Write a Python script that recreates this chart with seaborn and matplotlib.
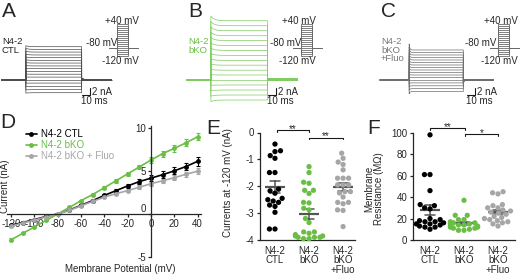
import matplotlib.pyplot as plt
import numpy as np
import pandas as pd
import seaborn as sns

# ---- data ----
step_mv = [-120, -110, -100, -90, -80, -70, -60, -50, -40, -30, -20, -10, 0, 10, 20, 30, 40]

# representative sweeps (steady current per step, nA)
ctl_sweep_na = [-3.3, -2.5, -1.65, -0.8, 0.0, 0.75, 1.5, 2.2, 2.95, 3.65, 4.4, 5.1, 5.8, 6.5, 7.25, 7.95, 8.65]
bko_sweep_na = [-5.2, -3.9, -2.6, -1.3, 0.0, 1.3, 2.55, 3.85, 5.1, 6.4, 7.7, 8.95, 10.25, 11.5, 12.8, 14.1, 15.4]
fluo_sweep_na = [-3.0, -2.25, -1.5, -0.75, 0.0, 0.65, 1.3, 1.95, 2.6, 3.25, 3.9, 4.55, 5.2, 5.85, 6.5, 7.15, 7.8]

# mean I-V (D)
iv_groups = ['N4-2 CTL', 'N4-2 bKO', 'N4-2 bKO + Fluo']
iv_ctl = [-1.3, -1.0, -0.65, -0.3, 0.0, 0.45, 1.0, 1.55, 2.15, 2.7, 3.25, 3.75, 4.15, 4.55, 5.0, 5.5, 6.1]
iv_bko = [-3.0, -2.25, -1.5, -0.75, 0.0, 0.75, 1.55, 2.25, 3.05, 3.85, 4.65, 5.45, 6.25, 7.0, 7.6, 8.25, 8.95]
iv_fluo = [-1.4, -1.05, -0.7, -0.35, 0.0, 0.4, 0.95, 1.45, 1.95, 2.35, 2.7, 3.1, 3.5, 3.85, 4.2, 4.6, 4.95]
iv_ctl_sem = [0.15, 0.12, 0.1, 0.08, 0.05, 0.1, 0.12, 0.15, 0.18, 0.22, 0.26, 0.3, 0.35, 0.38, 0.42, 0.45, 0.5]
iv_bko_sem = [0.15, 0.12, 0.1, 0.08, 0.05, 0.1, 0.12, 0.15, 0.18, 0.22, 0.25, 0.28, 0.32, 0.35, 0.38, 0.4, 0.42]
iv_fluo_sem = [0.12, 0.1, 0.08, 0.06, 0.04, 0.08, 0.1, 0.12, 0.14, 0.16, 0.18, 0.2, 0.22, 0.25, 0.27, 0.3, 0.32]

cat_labels = ['N4-2\nCTL', 'N4-2\nbKO', 'N4-2\nbKO\n+Fluo']

# currents at -120 mV (E)
e_ctl = [-0.43, -0.71, -0.68, -0.96, -0.86, -1.49, -1.49, -2.11, -2.17, -2.26, -2.45, -2.55,
         -2.5, -2.6, -2.7, -2.75, -2.97, -3.59, -3.59]
e_bko = [-1.27, -1.49, -1.85, -1.89, -2.15, -2.15, -2.27, -2.6, -2.62, -2.82, -2.88, -3.2,
         -3.35, -3.7, -3.7, -3.75, -3.8, -3.85, -3.85, -3.9, -3.9, -3.95, -3.95, -3.9]
e_fluo = [-0.96, -0.77, -1.19, -1.1, -1.39, -1.7, -1.7, -1.7, -1.95, -1.95, -1.95, -2.2,
          -2.25, -2.2, -2.4, -2.6, -2.6, -2.65, -2.88, -2.9, -3.5]

# membrane resistance (F)
f_ctl = [98, 61, 61, 46, 33, 32, 30, 29, 20, 19, 18, 17, 17, 16, 15, 15, 14, 13, 12, 12, 10]
f_bko = [37, 23, 23, 19, 19, 17, 16, 16, 15, 15, 14, 14, 13, 13, 12, 12, 11, 11, 10, 9, 9]
f_fluo = [45, 44, 43, 30, 33, 32, 30, 28, 27, 26, 25, 24, 22, 21, 20, 19, 18, 17, 16, 15, 13]

BLACK = '#000000'
GREEN = '#6abe45'
GRAY = '#a6a6a6'

sns.set_theme(style='ticks')
plt.rcParams['font.family'] = ['Liberation Sans', 'DejaVu Sans']
plt.rcParams['font.size'] = 7
plt.rcParams['axes.unicode_minus'] = False
plt.rcParams['axes.linewidth'] = 0.9
plt.rcParams['xtick.major.width'] = 0.9
plt.rcParams['ytick.major.width'] = 0.9

W, H = 520, 274
fig = plt.figure(figsize=(5.2, 2.74), dpi=100)


def rect(x0, y0, x1, y1):
    return [x0 / W, 1 - y1 / H, (x1 - x0) / W, (y1 - y0) / H]


def ftext(x, y, s, **kw):
    fig.text(x / W, 1 - y / H, s, **kw)


# ---- A-C: current traces ----
PX_MS, PX_NA, BASE = 0.833, 3.85, 80


def draw_traces(x_px, amps, color, pre, step, post, onset, tau_on, tail, tau_off, bar_t):
    ax = fig.add_axes(rect(x_px - 2, 10, x_px + 128, 110))
    ax.set_xlim(-2 / PX_MS, 128 / PX_MS)
    ax.set_ylim((BASE - 110) / PX_NA, (BASE - 10) / PX_NA)
    ax.axis('off')
    t_step = np.linspace(0, step, 300)
    t_post = np.linspace(0, post, 200)
    for a in amps:
        i_step = a * (1 + onset * np.exp(-t_step / tau_on))
        i_post = a * tail * np.exp(-t_post / tau_off)
        t = np.concatenate([[0, pre], pre + t_step, pre + step + t_post])
        i = np.concatenate([[0, 0], i_step, i_post])
        ax.plot(t, i, color=color, lw=0.5)
    # scale bar: 10 ms / 2 nA
    ax.plot([bar_t - 10, bar_t, bar_t], [-4, -4, -2], color='k', lw=0.8)
    ax.text(bar_t + 2.5, -3.0, '2 nA', va='center', ha='left', fontsize=7)
    ax.text(bar_t - 10.5, -4.15, '10 ms', va='top', ha='left', fontsize=7)


P_PRE, P_STEP, P_POST, HOLD_PX, PX_MV = 8, 10.5, 10, 47.7, 0.195


def draw_protocol(x_px, right_px, hold_label_px):
    ax = fig.add_axes(rect(x_px - 1, 18, x_px + 31, 60))
    ax.set_xlim(-1, 31)
    ax.set_ylim(-80 - (60 - HOLD_PX) / PX_MV, -80 + (HOLD_PX - 18) / PX_MV)
    ax.axis('off')
    for v in step_mv:
        ax.plot([0, P_PRE, P_PRE, P_PRE + P_STEP, P_PRE + P_STEP, P_PRE + P_STEP + P_POST],
                [-80, -80, v, v, -80, -80], color='#6a6a6a', lw=0.6)
    ftext(right_px, 20.5, '+40 mV', ha='right', va='center', fontsize=7)
    ftext(hold_label_px, 43.5, '-80 mV', ha='right', va='center', fontsize=7)
    ftext(right_px, 61.5, '-120 mV', ha='right', va='center', fontsize=7)


draw_traces(1.7, ctl_sweep_na, '#4d4d4d', 29, 67, 36, 0.03, 3, 0.06, 3, 106)
draw_traces(186.7, bko_sweep_na, '#80cc62', 29, 68, 36, 0.08, 4, 0.025, 1000, 107)
draw_traces(380, fluo_sweep_na, '#6e6e6e', 35, 65, 36, 0.2, 0.8, -0.15, 0.7, 114)

draw_protocol(109, 139, 117)
draw_protocol(293, 316, 301)
draw_protocol(490, 518, 496)

ftext(2, 37, 'N4-2\nCTL', ha='left', va='top', fontsize=6.8, linespacing=0.95, color='#222222')
ftext(188, 37, 'N4-2\nbKO', ha='left', va='top', fontsize=6.8, linespacing=0.95, color=GREEN)
ftext(381, 37, 'N4-2\nbKO\n+Fluo', ha='left', va='top', fontsize=6.8, linespacing=0.95, color='#777777')

for letter, x, y in [('A', 2, 17), ('B', 188, 17), ('C', 381, 17), ('D', 0, 128), ('E', 206, 134), ('F', 367, 134)]:
    ftext(x, y, letter, ha='left', va='baseline', fontsize=15)

# ---- D: I-V curves ----
ax_d = fig.add_axes(rect(6.5, 126, 201.1, 257))
df_iv = pd.DataFrame({
    'V': step_mv * 3,
    'I': iv_ctl + iv_bko + iv_fluo,
    'sem': iv_ctl_sem + iv_bko_sem + iv_fluo_sem,
    'group': [g for g in iv_groups for _ in step_mv],
})
pal = dict(zip(iv_groups, [BLACK, GREEN, GRAY]))
for g in iv_groups[::-1]:
    sub = df_iv[df_iv['group'] == g]
    ax_d.errorbar(sub['V'], sub['I'], yerr=sub['sem'], fmt='none', ecolor=pal[g],
                  elinewidth=0.8, capsize=1.5, capthick=0.8)
sns.lineplot(data=df_iv, x='V', y='I', hue='group', hue_order=iv_groups, palette=pal,
             marker='o', markersize=3.5, markeredgewidth=0, linewidth=1.2, errorbar=None, ax=ax_d)
ax_d.set_xlim(-124, 43)
ax_d.set_ylim(-5, 10.2)
ax_d.spines['left'].set_position(('data', 0))
ax_d.spines['bottom'].set_position(('data', 0))
ax_d.spines['top'].set_visible(False)
ax_d.spines['right'].set_visible(False)
ax_d.set_xticks([-120, -100, -80, -60, -40, -20, 0, 20, 40])
ax_d.set_yticks([-5, 0, 5, 10])
ax_d.tick_params(length=2, pad=1.5, labelsize=7)
for lab in ax_d.get_yticklabels():
    if lab.get_text() == '0':
        lab.set_va('bottom')
ax_d.set_xlabel('Membrane Potential (mV)', fontsize=7)
ax_d.xaxis.set_label_coords(120 / W, 1 - 264 / H, transform=fig.transFigure)
ax_d.set_ylabel('Current (nA)', fontsize=7)
ax_d.yaxis.set_label_coords(10 / W, 1 - 186 / H, transform=fig.transFigure)
handles, labels = ax_d.get_legend_handles_labels()
ax_d.legend(handles, labels, loc='upper left', bbox_to_anchor=(26 / W, 1 - 129 / H),
            bbox_transform=fig.transFigure, frameon=False, fontsize=7, handlelength=1.1,
            handletextpad=0.4, labelspacing=0.1, borderaxespad=0, borderpad=0,
            labelcolor='linecolor')


# ---- E / F: scatter with mean +/- SEM ----
def dot_panel(r, values, ylim, yticks, xlim, size):
    ax = fig.add_axes(r)
    df = pd.DataFrame({
        'group': [c for c, v in zip(cat_labels, values) for _ in v],
        'value': [x for v in values for x in v],
    })
    sns.swarmplot(data=df, x='group', y='value', hue='group', order=cat_labels,
                  hue_order=cat_labels, palette=[BLACK, GREEN, GRAY], size=size,
                  linewidth=0, legend=False, clip_on=False, ax=ax)
    sns.pointplot(data=df, x='group', y='value', order=cat_labels, errorbar='se',
                  color='#555555', markers='_', markersize=15, markeredgewidth=1.6,
                  linestyle='none', capsize=0.32, err_kws={'linewidth': 1.1}, ax=ax)
    for c in ax.collections + ax.lines:
        c.set_clip_on(False)
    ax.set_ylim(*ylim)
    ax.set_yticks(yticks)
    ax.set_xlim(*xlim)
    sns.despine(ax=ax)
    ax.set_xlabel('')
    ax.tick_params(axis='x', length=0, pad=4, labelsize=7)
    for lab in ax.get_xticklabels():
        lab.set_linespacing(0.95)
    ax.tick_params(axis='y', length=2.5, pad=1.5, labelsize=7)
    return ax


def bracket(ax, x0, x1, y, drop, star, star_y):
    ax.plot([x0, x0, x1, x1], [y - drop, y, y, y - drop], color='k', lw=0.8, clip_on=False)
    ax.text((x0 + x1) / 2, star_y, star, ha='center', va='baseline', fontsize=7)


ax_e = dot_panel(rect(260, 132.5, 355, 240), [e_ctl, e_bko, e_fluo], (-4, 0),
                 [0, -1, -2, -3, -4], (-0.44, 2.35), 3.8)
ax_e.set_ylabel('Currents at -120 mV (nA)', fontsize=7)
ax_e.yaxis.set_label_coords(233 / W, 1 - 183 / H, transform=fig.transFigure)
bracket(ax_e, 0.05, 1.0, 0.093, 0.06, '**', 0.02)
bracket(ax_e, 1.0, 2.0, -0.19, 0.07, '**', -0.26)

ax_f = dot_panel(rect(413, 132.7, 515, 240), [f_ctl, f_bko, f_fluo], (0, 100),
                 [0, 20, 40, 60, 80, 100], (-0.5, 2.5), 3.8)
ax_f.set_ylabel('Membrane\nResistance (M\u03a9)', fontsize=7, linespacing=0.95)
ax_f.yaxis.set_label_coords(384 / W, 1 - 189 / H, transform=fig.transFigure)
bracket(ax_f, 0.0, 1.04, 104.7, 1.9, '**', 102.5)
bracket(ax_f, 1.04, 2.0, 98.5, 1.6, '*', 96.5)

fig.savefig('out.png', dpi=100)
